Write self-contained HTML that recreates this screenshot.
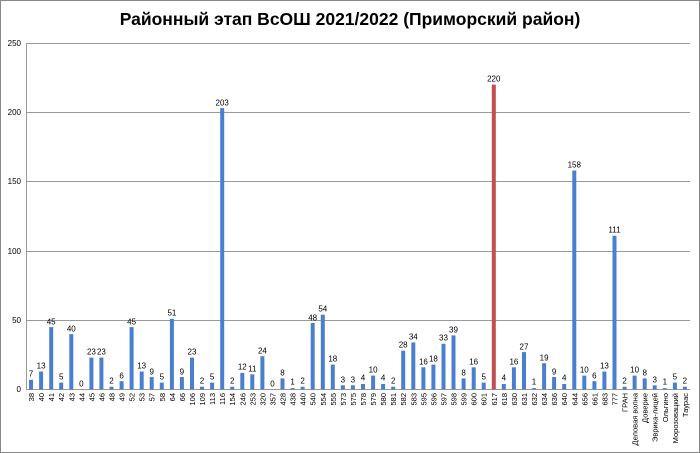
<!DOCTYPE html>
<html><head><meta charset="utf-8"><style>
html,body{margin:0;padding:0;background:#fff}
svg{display:block;font-family:"Liberation Sans","DejaVu Sans",sans-serif}
</style></head><body>
<svg width="700" height="453" viewBox="0 0 700 453" xmlns="http://www.w3.org/2000/svg">
<rect x="0.5" y="0.5" width="699" height="452" fill="#fff" stroke="#888"/>
<text x="350" y="25" text-anchor="middle" font-size="17.5" font-weight="bold" fill="#000">Районный этап ВсОШ 2021/2022 (Приморский район)</text>
<g stroke="#999" stroke-width="1">
<line x1="26" y1="43.5" x2="690" y2="43.5"/>
<line x1="26" y1="112.5" x2="690" y2="112.5"/>
<line x1="26" y1="181.5" x2="690" y2="181.5"/>
<line x1="26" y1="251.5" x2="690" y2="251.5"/>
<line x1="26" y1="320.5" x2="690" y2="320.5"/>
<line x1="26" y1="389.5" x2="690" y2="389.5"/>
<line x1="26.5" y1="43" x2="26.5" y2="390"/>
</g>
<g font-size="8" text-anchor="end" fill="#000">
<text x="21" y="46">250</text><text x="21" y="115">200</text><text x="21" y="184">150</text><text x="21" y="254">100</text><text x="21" y="323">50</text><text x="21" y="392">0</text>
</g>
<g transform="translate(0,389.5) scale(1,-1)" fill="#4a7fd0">
<rect x="29" y="0" width="4" height="9.7"/>
<rect x="39.1" y="0" width="4" height="18"/>
<rect x="49.2" y="0" width="4" height="62.4"/>
<rect x="59.2" y="0" width="4" height="6.9"/>
<rect x="69.3" y="0" width="4" height="55.4"/>
<rect x="89.4" y="0" width="4" height="31.9"/>
<rect x="99.4" y="0" width="4" height="31.9"/>
<rect x="109.5" y="0" width="4" height="2.8"/>
<rect x="119.6" y="0" width="4" height="8.3"/>
<rect x="129.6" y="0" width="4" height="62.4"/>
<rect x="139.7" y="0" width="4" height="18"/>
<rect x="149.7" y="0" width="4" height="12.5"/>
<rect x="159.8" y="0" width="4" height="6.9"/>
<rect x="169.9" y="0" width="4" height="70.7"/>
<rect x="179.9" y="0" width="4" height="12.5"/>
<rect x="190" y="0" width="4" height="31.9"/>
<rect x="200" y="0" width="4" height="2.8"/>
<rect x="210.1" y="0" width="4" height="6.9"/>
<rect x="220.2" y="0" width="4" height="281.4"/>
<rect x="230.2" y="0" width="4" height="2.8"/>
<rect x="240.3" y="0" width="4" height="16.6"/>
<rect x="250.3" y="0" width="4" height="15.2"/>
<rect x="260.4" y="0" width="4" height="33.3"/>
<rect x="280.5" y="0" width="4" height="11.1"/>
<rect x="290.6" y="0" width="4" height="1.4"/>
<rect x="300.6" y="0" width="4" height="2.8"/>
<rect x="310.7" y="0" width="4" height="66.5"/>
<rect x="320.8" y="0" width="4" height="74.8"/>
<rect x="330.8" y="0" width="4" height="24.9"/>
<rect x="340.9" y="0" width="4" height="4.2"/>
<rect x="350.9" y="0" width="4" height="4.2"/>
<rect x="361" y="0" width="4" height="5.5"/>
<rect x="371.1" y="0" width="4" height="13.9"/>
<rect x="381.1" y="0" width="4" height="5.5"/>
<rect x="391.2" y="0" width="4" height="2.8"/>
<rect x="401.2" y="0" width="4" height="38.8"/>
<rect x="411.3" y="0" width="4" height="47.1"/>
<rect x="421.4" y="0" width="4" height="22.2"/>
<rect x="431.4" y="0" width="4" height="24.9"/>
<rect x="441.5" y="0" width="4" height="45.7"/>
<rect x="451.5" y="0" width="4" height="54.1"/>
<rect x="461.6" y="0" width="4" height="11.1"/>
<rect x="471.7" y="0" width="4" height="22.2"/>
<rect x="481.7" y="0" width="4" height="6.9"/>
<rect x="491.8" y="0" width="4" height="304.9" fill="#c0504d"/>
<rect x="501.8" y="0" width="4" height="5.5"/>
<rect x="511.9" y="0" width="4" height="22.2"/>
<rect x="522" y="0" width="4" height="37.4"/>
<rect x="532" y="0" width="4" height="1.4"/>
<rect x="542.1" y="0" width="4" height="26.3"/>
<rect x="552.1" y="0" width="4" height="12.5"/>
<rect x="562.2" y="0" width="4" height="5.5"/>
<rect x="572.3" y="0" width="4" height="219"/>
<rect x="582.3" y="0" width="4" height="13.9"/>
<rect x="592.4" y="0" width="4" height="8.3"/>
<rect x="602.4" y="0" width="4" height="18"/>
<rect x="612.5" y="0" width="4" height="153.8"/>
<rect x="622.6" y="0" width="4" height="2.8"/>
<rect x="632.6" y="0" width="4" height="13.9"/>
<rect x="642.7" y="0" width="4" height="11.1"/>
<rect x="652.7" y="0" width="4" height="4.2"/>
<rect x="662.8" y="0" width="4" height="1.4"/>
<rect x="672.9" y="0" width="4" height="6.9"/>
<rect x="682.9" y="0" width="4" height="2.8"/>
</g>
<g transform="translate(0,389.5)" font-size="8" text-anchor="middle" fill="#000">
<text x="31" y="-13">7</text>
<text x="41.1" y="-21">13</text>
<text x="51.2" y="-65">45</text>
<text x="61.2" y="-10">5</text>
<text x="71.3" y="-58">40</text>
<text x="81.3" y="-3">0</text>
<text x="91.4" y="-35">23</text>
<text x="101.4" y="-35">23</text>
<text x="111.5" y="-6">2</text>
<text x="121.6" y="-11">6</text>
<text x="131.6" y="-65">45</text>
<text x="141.7" y="-21">13</text>
<text x="151.7" y="-15">9</text>
<text x="161.8" y="-10">5</text>
<text x="171.9" y="-74">51</text>
<text x="181.9" y="-15">9</text>
<text x="192" y="-35">23</text>
<text x="202" y="-6">2</text>
<text x="212.1" y="-10">5</text>
<text x="222.2" y="-284">203</text>
<text x="232.2" y="-6">2</text>
<text x="242.3" y="-20">12</text>
<text x="252.3" y="-18">11</text>
<text x="262.4" y="-36">24</text>
<text x="272.5" y="-3">0</text>
<text x="282.5" y="-14">8</text>
<text x="292.6" y="-5">1</text>
<text x="302.6" y="-6">2</text>
<text x="312.7" y="-69">48</text>
<text x="322.8" y="-78">54</text>
<text x="332.8" y="-28">18</text>
<text x="342.9" y="-7">3</text>
<text x="352.9" y="-7">3</text>
<text x="363" y="-9">4</text>
<text x="373.1" y="-17">10</text>
<text x="383.1" y="-9">4</text>
<text x="393.2" y="-6">2</text>
<text x="403.2" y="-42">28</text>
<text x="413.3" y="-50">34</text>
<text x="423.4" y="-25">16</text>
<text x="433.4" y="-28">18</text>
<text x="443.5" y="-49">33</text>
<text x="453.5" y="-57">39</text>
<text x="463.6" y="-14">8</text>
<text x="473.7" y="-25">16</text>
<text x="483.7" y="-10">5</text>
<text x="493.8" y="-308">220</text>
<text x="503.8" y="-9">4</text>
<text x="513.9" y="-25">16</text>
<text x="524" y="-40">27</text>
<text x="534" y="-5">1</text>
<text x="544.1" y="-29">19</text>
<text x="554.1" y="-15">9</text>
<text x="564.2" y="-9">4</text>
<text x="574.3" y="-222">158</text>
<text x="584.3" y="-17">10</text>
<text x="594.4" y="-11">6</text>
<text x="604.4" y="-21">13</text>
<text x="614.5" y="-157">111</text>
<text x="624.6" y="-6">2</text>
<text x="634.6" y="-17">10</text>
<text x="644.7" y="-14">8</text>
<text x="654.7" y="-7">3</text>
<text x="664.8" y="-5">1</text>
<text x="674.9" y="-10">5</text>
<text x="684.9" y="-6">2</text>
</g>
<g font-size="7.5" text-anchor="end" fill="#000">
<text transform="translate(34,393) rotate(-90)">38</text>
<text transform="translate(44.1,393) rotate(-90)">40</text>
<text transform="translate(54.2,393) rotate(-90)">41</text>
<text transform="translate(64.2,393) rotate(-90)">42</text>
<text transform="translate(74.3,393) rotate(-90)">43</text>
<text transform="translate(84.3,393) rotate(-90)">44</text>
<text transform="translate(94.4,393) rotate(-90)">45</text>
<text transform="translate(104.4,393) rotate(-90)">46</text>
<text transform="translate(114.5,393) rotate(-90)">48</text>
<text transform="translate(124.6,393) rotate(-90)">49</text>
<text transform="translate(134.6,393) rotate(-90)">52</text>
<text transform="translate(144.7,393) rotate(-90)">53</text>
<text transform="translate(154.7,393) rotate(-90)">57</text>
<text transform="translate(164.8,393) rotate(-90)">58</text>
<text transform="translate(174.9,393) rotate(-90)">64</text>
<text transform="translate(184.9,393) rotate(-90)">66</text>
<text transform="translate(195,393) rotate(-90)">106</text>
<text transform="translate(205,393) rotate(-90)">109</text>
<text transform="translate(215.1,393) rotate(-90)">113</text>
<text transform="translate(225.2,393) rotate(-90)">116</text>
<text transform="translate(235.2,393) rotate(-90)">154</text>
<text transform="translate(245.3,393) rotate(-90)">246</text>
<text transform="translate(255.3,393) rotate(-90)">253</text>
<text transform="translate(265.4,393) rotate(-90)">320</text>
<text transform="translate(275.5,393) rotate(-90)">357</text>
<text transform="translate(285.5,393) rotate(-90)">428</text>
<text transform="translate(295.6,393) rotate(-90)">438</text>
<text transform="translate(305.6,393) rotate(-90)">440</text>
<text transform="translate(315.7,393) rotate(-90)">540</text>
<text transform="translate(325.8,393) rotate(-90)">554</text>
<text transform="translate(335.8,393) rotate(-90)">555</text>
<text transform="translate(345.9,393) rotate(-90)">573</text>
<text transform="translate(355.9,393) rotate(-90)">575</text>
<text transform="translate(366,393) rotate(-90)">578</text>
<text transform="translate(376.1,393) rotate(-90)">579</text>
<text transform="translate(386.1,393) rotate(-90)">580</text>
<text transform="translate(396.2,393) rotate(-90)">581</text>
<text transform="translate(406.2,393) rotate(-90)">582</text>
<text transform="translate(416.3,393) rotate(-90)">583</text>
<text transform="translate(426.4,393) rotate(-90)">595</text>
<text transform="translate(436.4,393) rotate(-90)">596</text>
<text transform="translate(446.5,393) rotate(-90)">597</text>
<text transform="translate(456.5,393) rotate(-90)">598</text>
<text transform="translate(466.6,393) rotate(-90)">599</text>
<text transform="translate(476.7,393) rotate(-90)">600</text>
<text transform="translate(486.7,393) rotate(-90)">601</text>
<text transform="translate(496.8,393) rotate(-90)">617</text>
<text transform="translate(506.8,393) rotate(-90)">618</text>
<text transform="translate(516.9,393) rotate(-90)">630</text>
<text transform="translate(527,393) rotate(-90)">631</text>
<text transform="translate(537,393) rotate(-90)">632</text>
<text transform="translate(547.1,393) rotate(-90)">634</text>
<text transform="translate(557.1,393) rotate(-90)">636</text>
<text transform="translate(567.2,393) rotate(-90)">640</text>
<text transform="translate(577.3,393) rotate(-90)">644</text>
<text transform="translate(587.3,393) rotate(-90)">656</text>
<text transform="translate(597.4,393) rotate(-90)">661</text>
<text transform="translate(607.4,393) rotate(-90)">683</text>
<text transform="translate(617.5,393) rotate(-90)">777</text>
<text transform="translate(627.6,393) rotate(-90)">ГРАН</text>
<text transform="translate(637.6,393) rotate(-90)">Деловая волна</text>
<text transform="translate(647.7,393) rotate(-90)">Доверие</text>
<text transform="translate(657.7,393) rotate(-90)">Эврика-лицей</text>
<text transform="translate(667.8,393) rotate(-90)">Ольгино</text>
<text transform="translate(677.9,393) rotate(-90)">Морозовацкий</text>
<text transform="translate(687.9,393) rotate(-90)">Таурас</text>
</g>
</svg>
</body></html>
